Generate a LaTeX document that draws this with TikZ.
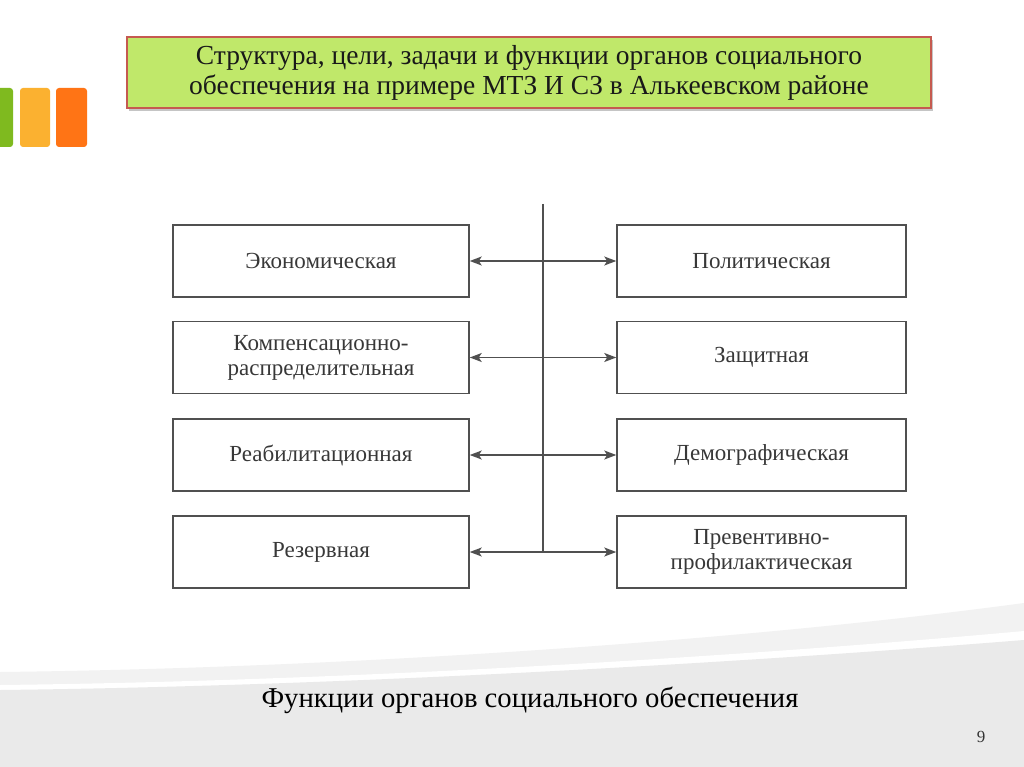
\documentclass[tikz,border=0pt]{standalone}
\usepackage{fontspec}
\setmainfont{Liberation Serif}
\usetikzlibrary{arrows.meta,shadows}
\definecolor{barGreen}{HTML}{7FBA1F}
\definecolor{barYellow}{HTML}{FBB130}
\definecolor{barOrange}{HTML}{FF7415}
\definecolor{titleFill}{HTML}{C0E86A}
\definecolor{titleLine}{HTML}{C55A50}
\definecolor{boxLine}{HTML}{505050}
\definecolor{boxText}{HTML}{383838}
\definecolor{bandA}{HTML}{F2F2F2}
\definecolor{bandB}{HTML}{EAEAEA}
\tikzset{
  fbox/.style={draw=boxLine, line width=1.5pt, fill=white, minimum height=72pt, align=center,
    text=boxText, font=\fontsize{23}{25}\selectfont, inner sep=2pt},
  lbox/.style={fbox, minimum width=296pt},
  rbox/.style={fbox, minimum width=289pt},
  conn/.style={draw=boxLine, line width=1.5pt},
  biarrow/.style={conn, {Stealth[length=12pt,width=9pt,inset=3pt]}-{Stealth[length=12pt,width=9pt,inset=3pt]}},
  bar/.style={rounded corners=3pt}
}
\begin{document}
\begin{tikzpicture}[x=1pt,y=-1pt]
\useasboundingbox (0,0) rectangle (1024,767);
\fill[white] (0,0) rectangle (1024,767);
% background swoosh
\fill[bandA] (0,672) .. controls (350,668) and (750,640) .. (1024,603) -- (1024,767) -- (0,767) -- cycle;
\fill[white] (0,685) .. controls (350,681) and (750,656) .. (1024,631) -- (1024,767) -- (0,767) -- cycle;
\fill[bandB] (0,690) .. controls (350,686) and (750,662) .. (1024,640) -- (1024,767) -- (0,767) -- cycle;
% bars
\fill[barGreen, bar] (-5,88) rectangle (13,147);
\fill[barYellow, bar] (20,88) rectangle (50,147);
\fill[barOrange, bar] (56,88) rectangle (87,147);
% title
\node[draw=titleLine, line width=1.5pt, fill=titleFill, minimum width=804pt, minimum height=71pt,
  drop shadow={shadow xshift=2pt, shadow yshift=-3pt, opacity=0.45}, align=center,
  font=\fontsize{27.5}{30}\selectfont, text=black!90] (title) at (529,72.5)
  {Структура, цели, задачи и функции органов социального\\обеспечения на примере МТЗ И СЗ в Алькеевском районе};
% boxes
\node[lbox] (L1) at (321,261) {Экономическая};
\node[lbox] (L2) at (321,357.5) {Компенсационно-\\распределительная};
\node[lbox] (L3) at (321,455) {Реабилитационная};
\node[lbox] (L4) at (321,552) {Резервная};
\node[rbox] (R1) at (761.5,261) {Политическая};
\node[rbox] (R2) at (761.5,357.5) {Защитная};
\node[rbox] (R3) at (761.5,455) {Демографическая};
\node[rbox] (R4) at (761.5,552) {Превентивно-\\профилактическая};
\coordinate (top) at (543,204);
\coordinate (bot) at (top |- L4.east);
\draw[conn] (top) -- (bot);
\draw[biarrow] (L1.east) -- (R1.west);
\draw[biarrow] (L2.east) -- (R2.west);
\draw[biarrow] (L3.east) -- (R3.west);
\draw[biarrow] (L4.east) -- (R4.west);
% caption
\node[font=\fontsize{28.7}{30}\selectfont, text=black] (cap) at (530,700) {Функции органов социального обеспечения};
\node[font=\fontsize{17}{18}\selectfont, text=black!80] (pg) at (981,737) {9};
\end{tikzpicture}
\end{document}
